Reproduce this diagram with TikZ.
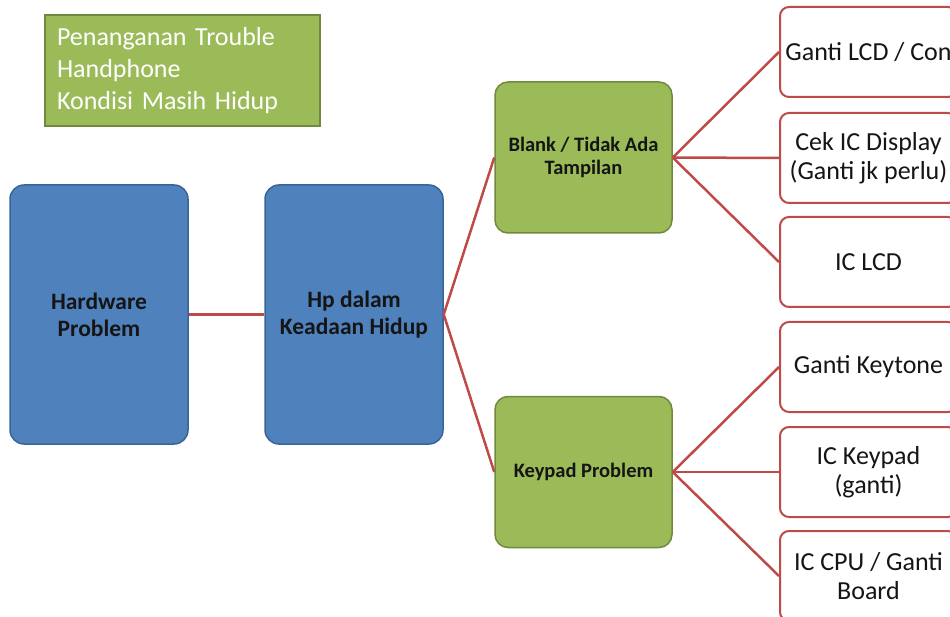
\documentclass[tikz,border=0pt]{standalone}
\usepackage{fontspec}
\setmainfont{Carlito}

\definecolor{blueFill}{HTML}{4F81BD}
\definecolor{blueEdge}{HTML}{3A6496}
\definecolor{greenFill}{HTML}{9BBB59}
\definecolor{greenEdge}{HTML}{71893F}
\definecolor{redLine}{HTML}{BE4B48}
\definecolor{textDark}{HTML}{151515}

\tikzset{
  mainbox/.style={rectangle,rounded corners=14pt,draw=blueEdge,fill=blueFill,line width=1.5pt,
    minimum width=178pt,minimum height=259pt,inner sep=0pt,align=center,text=textDark,
    font=\fontsize{23.5}{27}\selectfont\bfseries},
  casebox/.style={rectangle,rounded corners=13pt,draw=greenEdge,fill=greenFill,line width=1.5pt,
    minimum width=177pt,minimum height=151pt,inner sep=0pt,align=center,text=textDark,
    font=\fontsize{20.5}{23.5}\selectfont\bfseries},
  fixbox/.style={rectangle,rounded corners=9pt,draw=redLine,fill=white,line width=2pt,
    minimum width=177pt,minimum height=90pt,inner sep=0pt,align=center,text=textDark,
    font=\fontsize{26}{29}\selectfont},
  link/.style={draw=redLine,line width=2.5pt}
}

\begin{document}
\begin{tikzpicture}[x=1pt,y=-1pt]
  \useasboundingbox (0,0) rectangle (950,617);
  \clip (0,0) rectangle (950,617);

  % title
  \node[rectangle,draw=greenEdge,fill=greenFill,line width=1.5pt,minimum width=275pt,
    minimum height=111pt,text width=251pt,inner xsep=12pt,align=left,text=white,
    font=\fontsize{26}{32}\selectfont] (title) at (182.5,70.5)
    {Penanganan Trouble\\Handphone\\Kondisi Masih Hidup};

  % main chain
  \node[mainbox] (hw) at (99,314.5) {Hardware\\Problem};
  \node[mainbox] (hp) at (354,314.5) {Hp dalam\\Keadaan Hidup};

  % the two symptoms
  \node[casebox] (blank) at (583.5,157.5) {Blank / Tidak Ada\\Tampilan};
  \node[casebox] (keypad) at (583.5,472) {Keypad Problem};

  % what to do
  \node[fixbox] (lcd) at (868.5,52) {Ganti LCD / Con};
  \node[fixbox] (icdisp) at (868.5,158) {Cek IC Display\\(Ganti jk perlu)};
  \node[fixbox] (iclcd) at (868.5,262) {IC LCD};
  \node[fixbox] (keytone) at (868.5,367) {Ganti Keytone};
  \node[fixbox] (ickeypad) at (868.5,472) {IC Keypad\\(ganti)};
  \node[fixbox] (iccpu) at (868.5,576) {IC CPU / Ganti\\Board};

  \draw[link] (hw.east) -- (hp.west);
  \draw[link] (hp.east) -- (blank.west);
  \draw[link] (hp.east) -- (keypad.west);
  \draw[link] (blank.east) -- (lcd.west);
  \draw[link] (blank.east) -- (icdisp.west);
  \draw[link] (blank.east) -- (iclcd.west);
  \draw[link] (keypad.east) -- (keytone.west);
  \draw[link] (keypad.east) -- (ickeypad.west);
  \draw[link] (keypad.east) -- (iccpu.west);
\end{tikzpicture}
\end{document}
